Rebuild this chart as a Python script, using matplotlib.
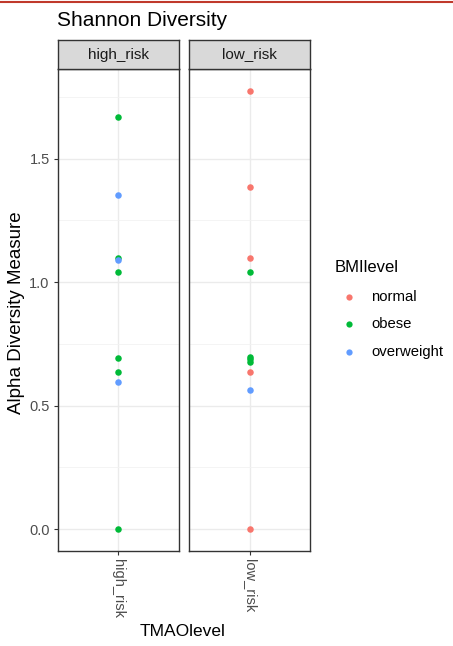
import matplotlib
matplotlib.use("Agg")
import matplotlib.pyplot as plt
from matplotlib.lines import Line2D

# data
facets = ["high_risk", "low_risk"]
high_vals = [1.670, 1.351, 1.096, 1.090, 1.039, 0.693, 0.635, 0.597, 0.0]
high_bmi = ["obese", "overweight", "obese", "overweight", "obese", "obese", "obese", "overweight", "obese"]
low_vals = [1.774, 1.384, 1.096, 1.039, 0.695, 0.688, 0.676, 0.635, 0.563, 0.0]
low_bmi = ["normal", "normal", "normal", "obese", "obese", "obese", "obese", "normal", "overweight", "normal"]
levels = ["normal", "obese", "overweight"]
colors = {"normal": "#F8766D", "obese": "#00BA38", "overweight": "#619CFF"}
yticks = [0.0, 0.5, 1.0, 1.5]

plt.rcParams['font.family'] = ['Liberation Sans', 'DejaVu Sans']

fig = plt.figure(figsize=(4.53, 6.46), dpi=100)
fig.patch.set_facecolor("white")

W, H = 453.0, 646.0
lefts = [58, 189]
pw = 121
top, bottom = 69, 551
strip_top = 40

all_vals = high_vals + low_vals
lo, hi = min(all_vals), max(all_vals)
pad = (hi - lo) * 0.05

data = [(high_vals, high_bmi), (low_vals, low_bmi)]
for i, name in enumerate(facets):
    ax = fig.add_axes([lefts[i] / W, 1 - bottom / H, pw / W, (bottom - top) / H])
    ax.set_facecolor("white")
    vals, bmi = data[i]
    for v, b in zip(vals, bmi):
        ax.scatter([0], [v], s=22, color=colors[b], zorder=3, linewidths=0)
    ax.set_xlim(-0.6, 0.6)
    ax.set_ylim(lo - pad, hi + pad)
    ax.set_yticks(yticks)
    ax.set_yticks([0.25, 0.75, 1.25, 1.75], minor=True)
    ax.set_xticks([0])
    ax.set_xticklabels([name], rotation=-90, fontsize=10.5, color="#4D4D4D")
    ax.grid(True, which="major", color="#EBEBEB", linewidth=1.0, zorder=0)
    ax.grid(True, which="minor", color="#F2F2F2", linewidth=0.6, zorder=0)
    ax.tick_params(which="minor", length=0)
    ax.tick_params(which="major", length=3, color="#333333", width=0.8, pad=3)
    if i == 0:
        ax.set_yticklabels([f"{t:.1f}" for t in yticks], fontsize=10.5, color="#4D4D4D")
    else:
        ax.tick_params(axis="y", which="major", length=0, labelleft=False)
    for s in ax.spines.values():
        s.set_color("#333333")
        s.set_linewidth(1.0)

    sax = fig.add_axes([lefts[i] / W, 1 - top / H, pw / W, (top - strip_top) / H])
    sax.set_facecolor("#D9D9D9")
    sax.set_xticks([])
    sax.set_yticks([])
    for s in sax.spines.values():
        s.set_color("#333333")
        s.set_linewidth(1.0)
    sax.text(0.5, 0.5, name, ha="center", va="center", fontsize=11, color="#1A1A1A",
             transform=sax.transAxes)

fig.text(57 / W, 1 - 21 / H, "Shannon Diversity", fontsize=15, ha="left", va="center", color="black")
fig.text(17 / W, 1 - 313 / H, "Alpha Diversity Measure", fontsize=13.5, rotation=90,
         ha="center", va="center", color="black")
fig.text(183 / W, 1 - 631 / H, "TMAOlevel", fontsize=12.5, ha="center", va="center", color="black")

# legend
fig.text(335 / W, 1 - 267 / H, "BMIlevel", fontsize=12, ha="left", va="center", color="black")
ys = [297, 324, 352]
for lvl, y in zip(levels, ys):
    fig.add_artist(Line2D([349 / W], [1 - y / H], marker="o", markersize=4.5, color=colors[lvl],
                          markeredgewidth=0, linestyle="none", transform=fig.transFigure))
    fig.text(371 / W, 1 - y / H, lvl, fontsize=10.7, ha="left", va="center", color="black")

# red border line at the top of the screenshot
fig.add_artist(Line2D([0, 1], [1 - 1.5 / H, 1 - 1.5 / H], color="#C0392B", linewidth=1.5,
                      transform=fig.transFigure))

fig.savefig("out.png", dpi=100)
